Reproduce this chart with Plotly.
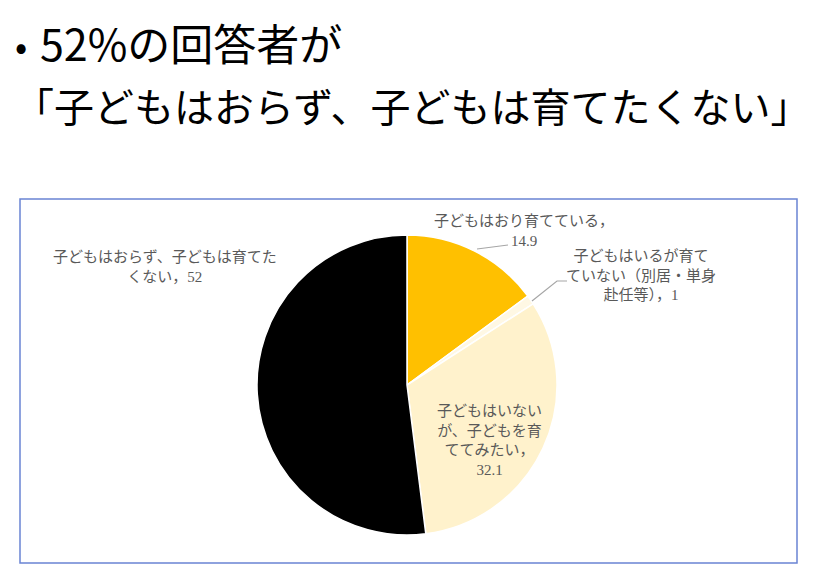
import plotly.graph_objects as go

# ── Data ───────────────────────────────────────────────────────────────────
labels = [
    "子どもはおり育てている",
    "子どもはいるが育てていない（別居・単身赴任等）",
    "子どもはいないが、子どもを育ててみたい",
    "子どもはおらず、子どもは育てたくない",
]
values = [14.9, 1, 32.1, 52]
colors = ["#FFC000", "#FFF8E4", "#FFF2CC", "#000000"]

# page body has an 8px margin, so the figure starts at (8, 8) in the window
OFF = 8
W, H = 829 - OFF, 584 - OFF
JP = "Noto Sans CJK JP"
SERIF = "Liberation Serif"
GRAY = "#595959"


def px(x):
    return (x - OFF) / W


def py(y):
    return 1 - (y - OFF) / H


fig = go.Figure(go.Pie(
    labels=labels,
    values=values,
    marker=dict(colors=colors, line=dict(color="white", width=1.5)),
    textinfo="none",
    sort=False,
    direction="clockwise",
    rotation=0,
    showlegend=False,
    domain=dict(x=[px(257), px(557)], y=[py(535), py(235)]),
))

# chart frame
fig.add_shape(type="rect", xref="paper", yref="paper",
              x0=px(20), x1=px(797), y0=py(563), y1=py(199),
              line=dict(color="#6A84D4", width=1.5))

# slide heading
fig.add_annotation(text="•", x=px(13), y=py(44), xref="paper", yref="paper",
                   xanchor="left", yanchor="middle", showarrow=False,
                   font=dict(size=36, color="black", family=JP))
fig.add_annotation(text="52%の回答者が", x=px(38), y=py(42), xref="paper", yref="paper",
                   xanchor="left", yanchor="middle", showarrow=False,
                   font=dict(size=43, color="black", family=JP))
fig.add_annotation(text="「子どもはおらず、子どもは育てたくない」", x=px(412), y=py(105),
                   xref="paper", yref="paper", xanchor="center", yanchor="middle",
                   showarrow=False, font=dict(size=40, color="black", family=JP))


def num(v):
    return f"<span style='font-family:{SERIF}'>{v:g}</span>"


# data labels (text, x, y in window px)
label_spots = [
    (f"子どもはおり育てている，<br>{num(values[0])}", 524, 229),
    (f"子どもはいるが育て<br>ていない（別居・単身<br>赴任等），{num(values[1])}", 641, 274),
    (f"子どもはいない<br>が、子どもを育<br>ててみたい，<br>{num(values[2])}", 490, 438),
    (f"子どもはおらず、子どもは育てた<br>くない，{num(values[3])}", 165, 265),
]

for txt, x, y in label_spots:
    fig.add_annotation(text=txt, x=px(x), y=py(y), xref="paper", yref="paper",
                       xanchor="center", yanchor="middle", showarrow=False,
                       font=dict(size=15, color=GRAY, family=JP))

# leader lines
leaders = [
    [(477, 249), (508, 245)],
    [(532, 301), (557, 281), (567, 281)],
]
for pts in leaders:
    path = "M " + " L ".join(f"{px(a)} {py(b)}" for a, b in pts)
    fig.add_shape(type="path", xref="paper", yref="paper", path=path,
                  line=dict(color="#A6A6A6", width=1.2))

fig.update_layout(
    width=W, height=H,
    margin=dict(l=0, r=0, t=0, b=0),
    paper_bgcolor="white",
    plot_bgcolor="white",
)

fig.write_html("out.html")
